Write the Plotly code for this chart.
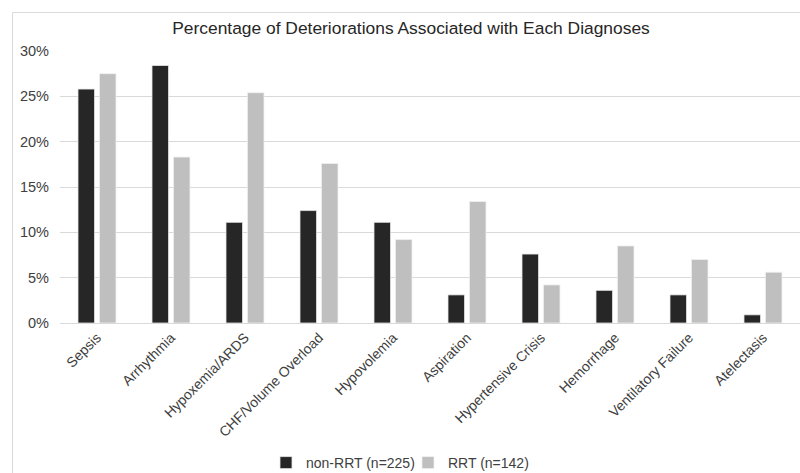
import plotly.graph_objects as go

categories = ["Sepsis", "Arrhythmia", "Hypoxemia/ARDS", "CHF/Volume Overload",
              "Hypovolemia", "Aspiration", "Hypertensive Crisis", "Hemorrhage",
              "Ventilatory Failure", "Atelectasis"]
non_rrt = [25.8, 28.4, 11.1, 12.4, 11.1, 3.1, 7.6, 3.6, 3.1, 0.9]
rrt = [27.5, 18.3, 25.4, 17.6, 9.2, 13.4, 4.2, 8.5, 7.0, 5.6]
y_ticks = [0, 5, 10, 15, 20, 25, 30]
y_tick_labels = ["0%", "5%", "10%", "15%", "20%", "25%", "30%"]

W, H = 800, 473
L, R, T, B = 60, 0, 51, 150
pw, ph = W - L - R, H - T - B

fig = go.Figure()
fig.add_bar(x=categories, y=non_rrt, name="non-RRT (n=225)",
            marker=dict(color="#262626", line=dict(color="#e6e6e6", width=0.8)))
fig.add_bar(x=categories, y=rrt, name="RRT (n=142)",
            marker=dict(color="#bfbfbf", line=dict(color="#f0f0f0", width=0.8)))

# outer chart frame
fig.add_shape(type="rect", xref="paper", yref="paper",
              x0=(12.5 - L) / pw, x1=1 + 20 / pw,
              y0=-(B + 5) / ph, y1=1 + (T - 12.5) / ph,
              line=dict(color="#d9d9d9", width=1), fillcolor="rgba(0,0,0,0)",
              layer="below")

fig.update_layout(
    width=W, height=H,
    margin=dict(l=L, r=R, t=T, b=B, autoexpand=False),
    paper_bgcolor="white", plot_bgcolor="white",
    font=dict(family="Liberation Sans, Arial, sans-serif", color="#404040", size=14),
    title=dict(text="Percentage of Deteriorations Associated with Each Diagnoses",
               x=411 / W, xref="container", xanchor="center",
               y=1 - 28 / H, yref="container", yanchor="middle",
               font=dict(size=17.4, color="#262626")),
    barmode="group", bargap=0.42, bargroupgap=0.23,
    showlegend=True,
    legend=dict(orientation="h", x=266 / W, xref="container", xanchor="left",
                y=1 - 463 / H, yref="container", yanchor="middle",
                font=dict(size=14, color="#404040"),
                entrywidth=97, entrywidthmode="pixels",
                traceorder="normal"),
)
fig.update_xaxes(tickangle=-45, showgrid=False, showline=True,
                 linecolor="#d9d9d9", linewidth=1, ticks="", automargin=False,
                 tickfont=dict(size=14, color="#404040"))
fig.update_yaxes(range=[0, 30], tickvals=y_ticks, ticktext=y_tick_labels,
                 showgrid=True, gridcolor="#d9d9d9", gridwidth=1,
                 zeroline=False, ticks="", showline=False, automargin=False,
                 ticklabelstandoff=10,
                 tickfont=dict(size=14.5, color="#404040"))

fig.write_html("out.html")
